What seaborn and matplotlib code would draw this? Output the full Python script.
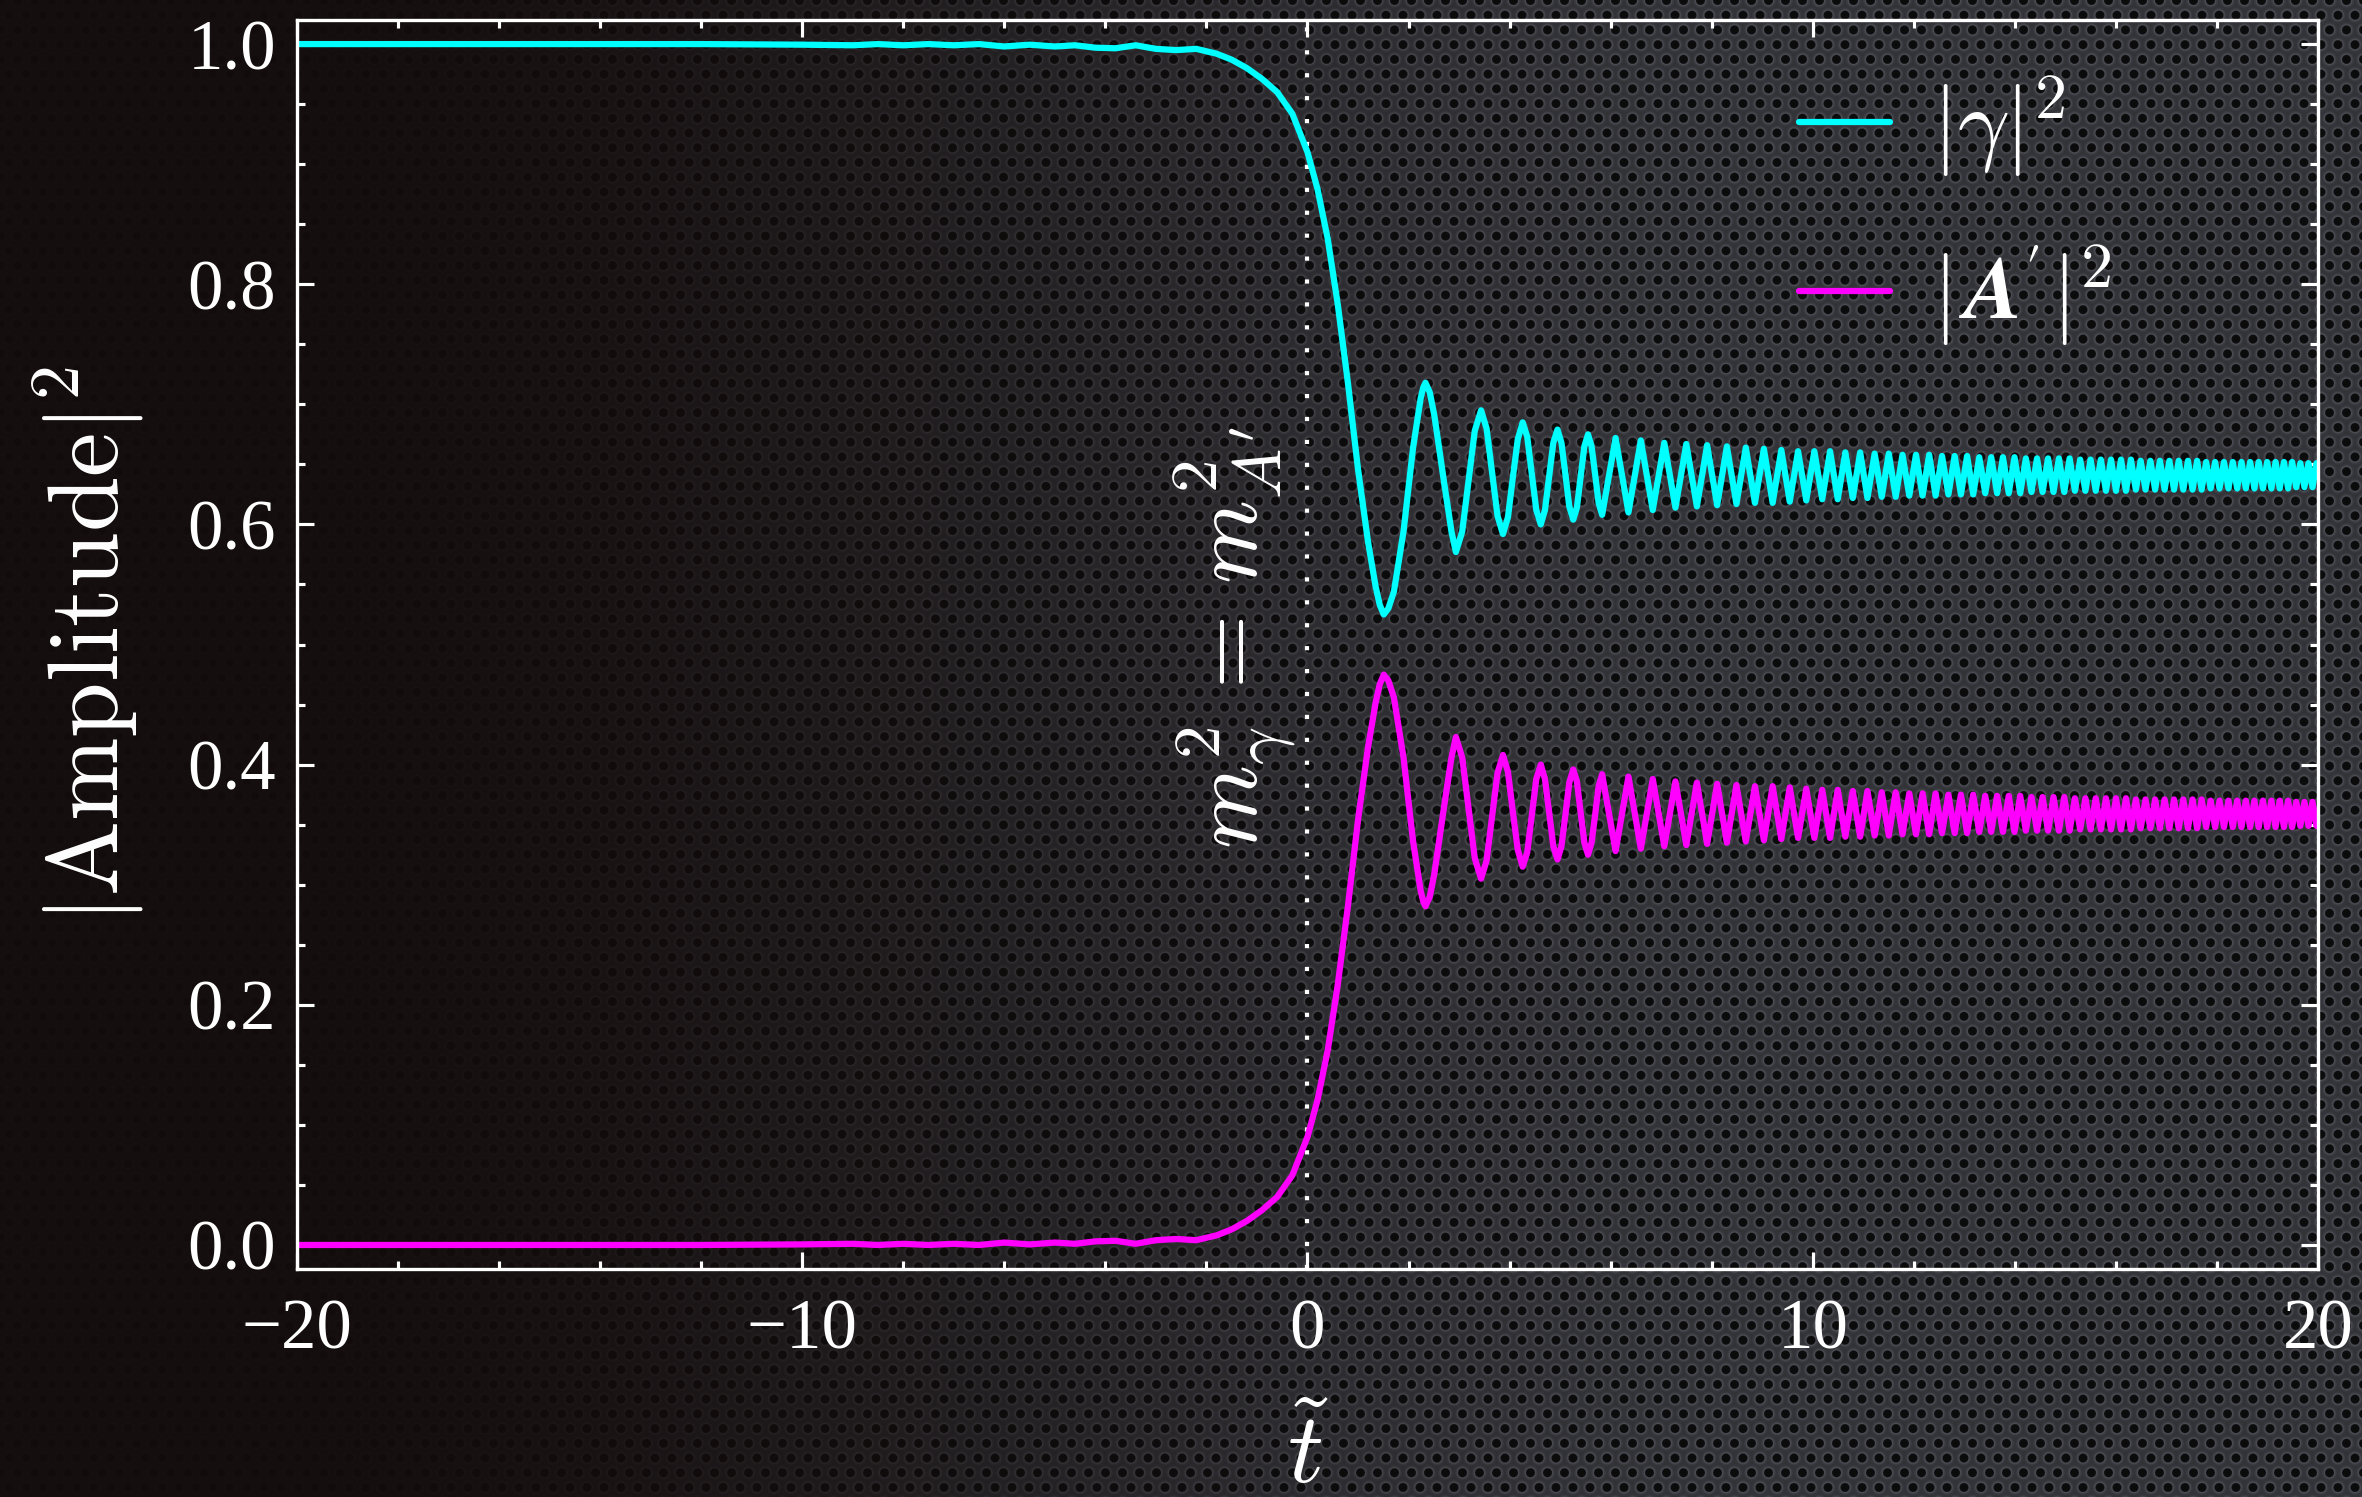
import numpy as np
import pandas as pd
import matplotlib
matplotlib.use("Agg")
import matplotlib.pyplot as plt
from matplotlib.ticker import MultipleLocator
import seaborn as sns

# ---------------- data ----------------
t_pre = [-20.0, -15.0, -12.0, -10.0, -9.0, -8.5, -8.0, -7.5, -7.0, -6.5, -6.0, -5.5,
         -5.0, -4.6, -4.2, -3.8, -3.4, -3.0, -2.6, -2.2, -1.8, -1.5, -1.2, -0.9,
         -0.6, -0.3, 0.0, 0.2, 0.4, 0.6, 0.8, 1.0, 1.2, 1.35, 1.43]
gamma_pre = [1.000, 1.000, 1.000, 0.9995, 0.999, 1.000, 0.999, 1.000, 0.999, 1.000, 0.998, 0.9995,
             0.998, 0.999, 0.997, 0.9965, 0.999, 0.996, 0.995, 0.996, 0.992, 0.987, 0.980, 0.971,
             0.960, 0.942, 0.910, 0.879, 0.838, 0.783, 0.718, 0.646, 0.585, 0.548, 0.533]
aprime_pre = [0.000, 0.000, 0.000, 0.0005, 0.001, 0.000, 0.001, 0.000, 0.001, 0.000, 0.002, 0.0005,
              0.002, 0.001, 0.003, 0.0035, 0.001, 0.004, 0.005, 0.004, 0.008, 0.013, 0.020, 0.029,
              0.040, 0.058, 0.090, 0.121, 0.162, 0.217, 0.282, 0.354, 0.415, 0.452, 0.467]

t_osc = [1.510, 1.60, 1.71, 1.90, 2.09, 2.24, 2.29, 2.335, 2.42, 2.51, 2.70, 2.85, 2.937,
         3.062, 3.186, 3.311, 3.435, 3.544, 3.652, 3.761, 3.869, 3.967, 4.064,
         4.162, 4.259, 4.349, 4.438, 4.528, 4.617, 4.700, 4.783, 4.865, 4.948,
         5.026, 5.104, 5.181, 5.259, 5.332, 5.406, 5.479, 5.552, 5.622, 5.692,
         5.761, 5.831]
gamma_osc = [0.525, 0.530, 0.544, 0.594, 0.664, 0.705, 0.714, 0.718, 0.710, 0.691, 0.636, 0.594, 0.577,
             0.594, 0.636, 0.678, 0.695, 0.680, 0.644, 0.607, 0.592, 0.606, 0.639,
             0.671, 0.685, 0.673, 0.643, 0.612, 0.600, 0.612, 0.640, 0.668, 0.679,
             0.668, 0.642, 0.615, 0.604, 0.614, 0.640, 0.665, 0.675, 0.665, 0.642,
             0.618, 0.608]
aprime_osc = [0.475, 0.470, 0.456, 0.406, 0.336, 0.295, 0.286, 0.282, 0.290, 0.309, 0.364, 0.406, 0.423,
              0.406, 0.364, 0.322, 0.305, 0.320, 0.356, 0.393, 0.408, 0.394, 0.361,
              0.329, 0.315, 0.327, 0.357, 0.388, 0.400, 0.388, 0.360, 0.332, 0.321,
              0.332, 0.358, 0.385, 0.396, 0.386, 0.360, 0.335, 0.325, 0.335, 0.358,
              0.382, 0.392]

t_mid = [6.097, 6.352, 6.597, 6.833, 7.061, 7.282, 7.497, 7.706, 7.909, 8.107,
         8.300, 8.489, 8.674, 8.855, 9.032, 9.206, 9.377, 9.544, 9.709, 9.871, 10.031]
gamma_mid = [0.672, 0.610, 0.670, 0.612, 0.668, 0.614, 0.667, 0.615, 0.666, 0.616,
             0.665, 0.617, 0.664, 0.618, 0.663, 0.618, 0.662, 0.619, 0.661, 0.620, 0.661]
aprime_mid = [0.328, 0.390, 0.330, 0.388, 0.332, 0.386, 0.333, 0.385, 0.334, 0.384,
              0.335, 0.383, 0.336, 0.382, 0.337, 0.382, 0.338, 0.381, 0.339, 0.380, 0.339]

t_tail = [10.187, 10.342, 10.494, 10.644, 10.792, 10.938, 11.082, 11.224, 11.365, 11.504,
          11.641, 11.776, 11.910, 12.042, 12.173, 12.303, 12.431, 12.558, 12.684, 12.808,
          12.932, 13.054, 13.175, 13.294, 13.413, 13.531, 13.648, 13.763, 13.878, 13.992,
          14.105, 14.217, 14.328, 14.438, 14.548, 14.656, 14.764, 14.871, 14.977, 15.083,
          15.188, 15.292, 15.395, 15.498, 15.600, 15.701, 15.802, 15.902, 16.001, 16.100,
          16.198, 16.296, 16.393, 16.489, 16.585, 16.681, 16.775, 16.870, 16.963, 17.057,
          17.149, 17.242, 17.333, 17.425, 17.516, 17.606, 17.696, 17.785, 17.874, 17.962,
          18.050, 18.138, 18.226, 18.312, 18.399, 18.485, 18.570, 18.655, 18.740, 18.825,
          18.909, 18.992, 19.076, 19.159, 19.241, 19.324, 19.406, 19.487, 19.568, 19.649,
          19.730, 19.810, 19.890, 19.969, 20.0]
gamma_tail = [0.621, 0.661, 0.621, 0.660, 0.622, 0.660, 0.622, 0.659, 0.623, 0.659,
              0.623, 0.658, 0.624, 0.658, 0.624, 0.658, 0.624, 0.657, 0.625, 0.657,
              0.625, 0.657, 0.625, 0.656, 0.626, 0.656, 0.626, 0.656, 0.626, 0.656,
              0.626, 0.655, 0.627, 0.655, 0.627, 0.655, 0.627, 0.655, 0.627, 0.655,
              0.628, 0.654, 0.628, 0.654, 0.628, 0.654, 0.628, 0.654, 0.628, 0.654,
              0.628, 0.654, 0.629, 0.653, 0.629, 0.653, 0.629, 0.653, 0.629, 0.653,
              0.629, 0.653, 0.629, 0.653, 0.629, 0.653, 0.629, 0.652, 0.630, 0.652,
              0.630, 0.652, 0.630, 0.652, 0.630, 0.652, 0.630, 0.652, 0.630, 0.652,
              0.630, 0.652, 0.630, 0.652, 0.630, 0.652, 0.630, 0.652, 0.631, 0.651,
              0.631, 0.651, 0.631, 0.651, 0.645]
aprime_tail = [0.379, 0.339, 0.379, 0.340, 0.378, 0.340, 0.378, 0.341, 0.377, 0.341,
               0.377, 0.342, 0.376, 0.342, 0.376, 0.342, 0.376, 0.343, 0.375, 0.343,
               0.375, 0.343, 0.375, 0.344, 0.374, 0.344, 0.374, 0.344, 0.374, 0.344,
               0.374, 0.345, 0.373, 0.345, 0.373, 0.345, 0.373, 0.345, 0.373, 0.345,
               0.372, 0.346, 0.372, 0.346, 0.372, 0.346, 0.372, 0.346, 0.372, 0.346,
               0.372, 0.346, 0.371, 0.347, 0.371, 0.347, 0.371, 0.347, 0.371, 0.347,
               0.371, 0.347, 0.371, 0.347, 0.371, 0.347, 0.371, 0.348, 0.370, 0.348,
               0.370, 0.348, 0.370, 0.348, 0.370, 0.348, 0.370, 0.348, 0.370, 0.348,
               0.370, 0.348, 0.370, 0.348, 0.370, 0.348, 0.370, 0.348, 0.369, 0.349,
               0.369, 0.349, 0.369, 0.349, 0.355]

x_ticks = [-20, -10, 0, 10, 20]
y_ticks = [0.0, 0.2, 0.4, 0.6, 0.8, 1.0]
transition_t = 0.0
series_names = ["gamma", "aprime"]

# ---------------- style ----------------
sns.set_style("ticks")
plt.rcParams["font.family"] = ["Liberation Serif", "DejaVu Serif"]
plt.rcParams["mathtext.fontset"] = "cm"
plt.rcParams["axes.unicode_minus"] = True
plt.rcParams["lines.solid_joinstyle"] = "round"
plt.rcParams["lines.solid_capstyle"] = "round"

from matplotlib.mathtext import MathTextParser
def _ok(s, fontset):
    old = plt.rcParams["mathtext.fontset"]
    try:
        plt.rcParams["mathtext.fontset"] = fontset
        MathTextParser("path").parse(s)
        return True
    except Exception:
        return False
    finally:
        plt.rcParams["mathtext.fontset"] = old

lab_gamma = r"$|\gamma|^2$"
lab_a_frame = r"$|\quad\,|^2$"          # bars and exponent in CM
a_sym = r"$\mathbfit{A}'$"               # bold-italic A' set between the bars (STIX)
a_family = "stix"
if not _ok(a_sym, "stix"):
    a_sym = r"$\boldsymbol{A'}$"
    if not _ok(a_sym, "stix"):
        a_sym = r"$\mathbf{A'}$"
        a_family = "cm"

t_all = t_pre + t_osc + t_mid + t_tail
g_all = gamma_pre + gamma_osc + gamma_mid + gamma_tail
a_all = aprime_pre + aprime_osc + aprime_mid + aprime_tail
df = pd.concat([
    pd.DataFrame({"t": t_all, "P": g_all, "series": series_names[0]}),
    pd.DataFrame({"t": t_all, "P": a_all, "series": series_names[1]}),
], ignore_index=True)

W, H = 2362, 1497
DPI = 300
fig = plt.figure(figsize=(W / DPI, H / DPI), dpi=DPI)
fig.patch.set_facecolor("#120c0c")

# ---------------- background texture ----------------
yy, xx = np.mgrid[0:H, 0:W].astype(np.float32)
p = 17.0
hrow = p * np.sqrt(3) / 2
j0 = np.round(yy / hrow)
dmin = np.full((H, W), 1e9, dtype=np.float32)
for dj in (-1, 0, 1):
    j = j0 + dj
    off = (np.mod(j, 2)) * p / 2
    i = np.round((xx - off) / p)
    dx = xx - (i * p + off)
    dy = yy - j * hrow
    dmin = np.minimum(dmin, np.sqrt(dx * dx + dy * dy))
val = np.interp(dmin, [0, 3.9, 5.1, 6.2, 7.6, 10.0], [11, 13, 80, 64, 54, 50]).astype(np.float32)
mesh = np.stack([val * 0.97, val * 0.98, val * 1.07], axis=-1) / 255.0
fx = xx / W
w = np.clip((fx - 0.12) / 0.62, 0, 1)
w = w * w * (3 - 2 * w)
w = 0.06 + 0.94 * w
dark = np.array([19, 12, 12], dtype=np.float32) / 255.0
img = dark[None, None, :] * (1 - w[..., None]) + mesh * w[..., None]
bg = fig.add_axes([0, 0, 1, 1], zorder=-5)
bg.imshow(np.clip(img, 0, 1), aspect="auto", interpolation="nearest", extent=(0, 1, 0, 1))
bg.set_axis_off()

# ---------------- main axes ----------------
ax = fig.add_axes([0.1257, 0.1523, 0.8557, 0.8343], zorder=1)
ax.set_facecolor("none")

sns.lineplot(data=df, x="t", y="P", hue="series",
             palette={series_names[0]: "#00ffff", series_names[1]: "#ff00ff"},
             hue_order=series_names,
             estimator=None, sort=False, linewidth=1.5, ax=ax)

ax.axvline(transition_t, color="white", lw=1.0, dashes=(1.0, 4.5), zorder=0.5)

ax.set_xlim(-20, 20)
ax.set_ylim(-0.02, 1.02)
ax.set_xticks(x_ticks)
ax.set_yticks(y_ticks)
ax.xaxis.set_minor_locator(MultipleLocator(2))
ax.yaxis.set_minor_locator(MultipleLocator(0.05))
ax.tick_params(which="both", direction="in", top=True, right=True,
               colors="white", labelcolor="white", labelsize=17)
ax.tick_params(which="major", length=4, width=0.75)
ax.tick_params(which="minor", length=2, width=0.75)
ax.tick_params(axis="y", pad=5)
ax.tick_params(axis="x", pad=7)
for s in ax.spines.values():
    s.set_color("white")
    s.set_linewidth(0.8)

ax.set_xlabel(r"$\tilde{t}$", fontsize=24, color="white", labelpad=12)
ax.set_ylabel(r"$|\mathrm{Amplitude}|^2$", fontsize=24, color="white", labelpad=10)

ax.text(-1.43, 0.506, r"$m_\gamma^2 \,=\, m_{A'}^2$", rotation=90, color="white",
        fontsize=23, ha="center", va="center")

handles, _ = ax.get_legend_handles_labels()
LEG_FS = 22
leg = ax.legend(handles, [lab_gamma, lab_a_frame], loc="upper left",
                bbox_to_anchor=(0.743, 0.957),
                frameon=False, fontsize=LEG_FS, handlelength=1.0, handletextpad=0.45,
                labelspacing=0.7, borderpad=0, borderaxespad=0)
for txt in leg.get_texts():
    txt.set_color("white")

# place the bold-italic A' between the bars of the second label
fig.canvas.draw()
rend = fig.canvas.get_renderer()
bb = leg.get_texts()[1].get_window_extent(rend)
em = LEG_FS * DPI / 72.0
xc = bb.x0 + 0.74 * em
yc = bb.y0 + 0.55 * em
fig.text(xc / W, yc / H, a_sym, fontsize=21, color="white", ha="center", va="center",
         math_fontfamily=a_family, zorder=5)

fig.savefig("out.png", dpi=DPI, facecolor=fig.get_facecolor())
